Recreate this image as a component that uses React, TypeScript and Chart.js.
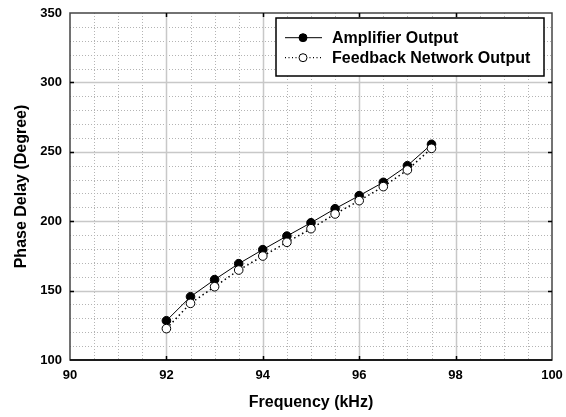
import React, { useEffect, useRef } from "react";
import { Chart, registerables } from "chart.js";

Chart.register(...registerables);

const frequencies = [92, 92.5, 93, 93.5, 94, 94.5, 95, 95.5, 96, 96.5, 97, 97.5];
const amplifierOutput = [128.3, 145.6, 157.9, 169.4, 179.5, 189.3, 198.9, 209, 218.4, 228, 240, 255.4];
const feedbackOutput = [122.6, 140.8, 152.8, 164.8, 174.9, 184.8, 194.6, 205.2, 214.8, 224.9, 236.9, 252.5];
const seriesNames = ["Amplifier Output", "Feedback Network Output"];
const xRange = [90, 100];
const yRange = [100, 350];
const xMajorStep = 2;
const xMinorStep = 0.5;
const yMajorStep = 50;
const yMinorStep = 10;

const FONT = "'Liberation Sans', Arial, sans-serif";

const gridPlugin = {
  id: "customGrid",
  beforeDatasetsDraw(chart: any) {
    const { ctx, chartArea: a } = chart;
    const xs = chart.scales.x;
    const ys = chart.scales.y;
    ctx.save();
    // minor dotted
    ctx.strokeStyle = "#b4b4b4";
    ctx.lineWidth = 1;
    ctx.setLineDash([1, 2]);
    for (let v = xRange[0]; v <= xRange[1] + 1e-9; v += xMinorStep) {
      if (Math.abs(v / xMajorStep - Math.round(v / xMajorStep)) < 1e-6) continue;
      const px = Math.round(xs.getPixelForValue(v)) + 0.5;
      ctx.beginPath();
      ctx.moveTo(px, a.top);
      ctx.lineTo(px, a.bottom);
      ctx.stroke();
    }
    for (let v = yRange[0]; v <= yRange[1] + 1e-9; v += yMinorStep) {
      if (Math.abs(v / yMajorStep - Math.round(v / yMajorStep)) < 1e-6) continue;
      const py = Math.round(ys.getPixelForValue(v)) + 0.5;
      ctx.beginPath();
      ctx.moveTo(a.left, py);
      ctx.lineTo(a.right, py);
      ctx.stroke();
    }
    // major solid
    ctx.setLineDash([]);
    ctx.strokeStyle = "#c8c8c8";
    ctx.lineWidth = 1.5;
    for (let v = xRange[0] + xMajorStep; v < xRange[1] - 1e-9; v += xMajorStep) {
      const px = Math.round(xs.getPixelForValue(v)) + 0.5;
      ctx.beginPath();
      ctx.moveTo(px, a.top);
      ctx.lineTo(px, a.bottom);
      ctx.stroke();
    }
    for (let v = yRange[0] + yMajorStep; v < yRange[1] - 1e-9; v += yMajorStep) {
      const py = Math.round(ys.getPixelForValue(v)) + 0.5;
      ctx.beginPath();
      ctx.moveTo(a.left, py);
      ctx.lineTo(a.right, py);
      ctx.stroke();
    }
    ctx.restore();
  },
  afterDraw(chart: any) {
    const { ctx, chartArea: a } = chart;
    const xs = chart.scales.x;
    const ys = chart.scales.y;
    ctx.save();
    ctx.setLineDash([]);
    // frame
    ctx.lineWidth = 1.5;
    ctx.strokeStyle = "#444";
    ctx.strokeRect(a.left, a.top, a.right - a.left, a.bottom - a.top);
    ctx.strokeStyle = "#000";
    ctx.beginPath();
    ctx.moveTo(a.left, a.bottom);
    ctx.lineTo(a.right, a.bottom);
    ctx.stroke();
    // inner ticks
    ctx.lineWidth = 1.5;
    const tl = 4;
    for (let v = xRange[0] + xMajorStep; v < xRange[1] - 1e-9; v += xMajorStep) {
      const px = Math.round(xs.getPixelForValue(v)) + 0.5;
      ctx.beginPath();
      ctx.moveTo(px, a.bottom);
      ctx.lineTo(px, a.bottom - tl);
      ctx.moveTo(px, a.top);
      ctx.lineTo(px, a.top + tl);
      ctx.stroke();
    }
    for (let v = yRange[0] + yMajorStep; v < yRange[1] - 1e-9; v += yMajorStep) {
      const py = Math.round(ys.getPixelForValue(v)) + 0.5;
      ctx.beginPath();
      ctx.moveTo(a.left, py);
      ctx.lineTo(a.left + tl, py);
      ctx.moveTo(a.right, py);
      ctx.lineTo(a.right - tl, py);
      ctx.stroke();
    }
    // legend
    const L = 276, T = 18, R = 544, B = 76;
    ctx.fillStyle = "#fff";
    ctx.fillRect(L, T, R - L, B - T);
    ctx.strokeStyle = "#000";
    ctx.lineWidth = 1.5;
    ctx.strokeRect(L, T, R - L, B - T);
    const rows = [37.7, 57.7];
    ctx.font = `bold 16px ${FONT}`;
    ctx.textBaseline = "middle";
    ctx.textAlign = "left";
    rows.forEach((ry, i) => {
      ctx.strokeStyle = "#000";
      ctx.lineWidth = i === 0 ? 1 : 1.3;
      ctx.setLineDash(i === 0 ? [] : [1, 2.5]);
      ctx.beginPath();
      ctx.moveTo(285, ry);
      ctx.lineTo(322, ry);
      ctx.stroke();
      ctx.setLineDash([]);
      ctx.beginPath();
      ctx.arc(303, ry, 4, 0, Math.PI * 2);
      ctx.fillStyle = i === 0 ? "#000" : "#fff";
      ctx.fill();
      ctx.lineWidth = 1;
      ctx.stroke();
      ctx.fillStyle = "#000";
      ctx.fillText(seriesNames[i], 332, ry + 1);
    });
    ctx.restore();
  },
};

export default function App() {
  const ref = useRef<HTMLCanvasElement | null>(null);
  useEffect(() => {
    document.body.style.margin = "0";
    const canvas = ref.current!;
    const chart = new Chart(canvas, {
      type: "line",
      data: {
        datasets: [
          {
            label: seriesNames[0],
            data: frequencies.map((f, i) => ({ x: f, y: amplifierOutput[i] })),
            borderColor: "#000",
            borderWidth: 1,
            backgroundColor: "#000",
            pointBackgroundColor: "#000",
            pointBorderColor: "#000",
            pointRadius: 4.3,
            pointBorderWidth: 1,
            tension: 0,
            order: 1,
          },
          {
            label: seriesNames[1],
            data: frequencies.map((f, i) => ({ x: f, y: feedbackOutput[i] })),
            borderColor: "#000",
            borderWidth: 1.5,
            borderDash: [1.5, 3],
            backgroundColor: "#fff",
            pointBackgroundColor: "#fff",
            pointBorderColor: "#000",
            pointRadius: 4.3,
            pointBorderWidth: 1,
            tension: 0,
            order: 0,
          },
        ],
      },
      options: {
        animation: false,
        responsive: false,
        maintainAspectRatio: false,
        layout: { padding: { top: 13, right: 14, left: 0, bottom: 0 } },
        plugins: { legend: { display: false }, tooltip: { enabled: false } },
        scales: {
          x: {
            type: "linear",
            min: xRange[0],
            max: xRange[1],
            ticks: {
              stepSize: xMajorStep,
              color: "#000",
              font: { family: FONT, size: 13, weight: "bold" },
              padding: 8,
              maxRotation: 0,
            },
            grid: { display: false, drawTicks: false },
            border: { display: false },
            title: {
              display: true,
              text: "Frequency (kHz)",
              color: "#000",
              font: { family: FONT, size: 16, weight: "bold" },
              padding: { top: 0, bottom: 5 },
            },
            afterFit: (s: any) => {
              s.height = 57;
              s.paddingLeft = 0;
              s.paddingRight = 0;
            },
          },
          y: {
            type: "linear",
            min: yRange[0],
            max: yRange[1],
            ticks: {
              stepSize: yMajorStep,
              color: "#000",
              font: { family: FONT, size: 13, weight: "bold" },
              padding: 8,
            },
            grid: { display: false, drawTicks: false },
            border: { display: false },
            title: {
              display: true,
              text: "Phase Delay (Degree)",
              color: "#000",
              font: { family: FONT, size: 16, weight: "bold" },
              padding: { top: 12, bottom: 0 },
            },
            afterFit: (s: any) => {
              s.width = 70;
              s.paddingTop = 0;
              s.paddingBottom = 0;
            },
          },
        },
      },
      plugins: [gridPlugin],
    });
    return () => chart.destroy();
  }, []);
  return (
    <div style={{ width: 566, height: 417, background: "#fff" }}>
      <canvas ref={ref} width={566} height={417} style={{ display: "block" }} />
    </div>
  );
}
